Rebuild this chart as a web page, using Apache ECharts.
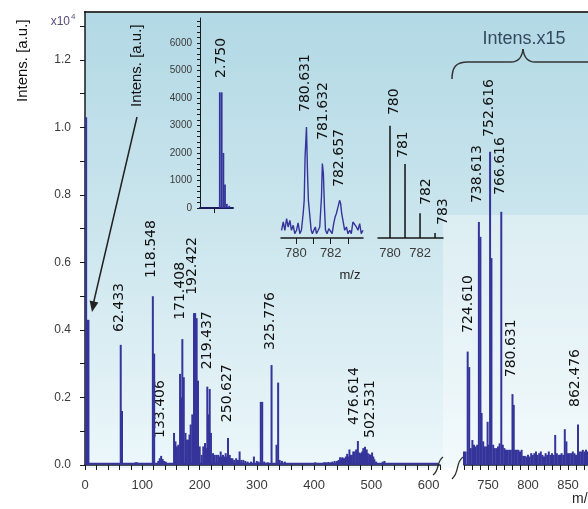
<!DOCTYPE html>
<html>
<head>
<meta charset="utf-8">
<script src="https://cdn.jsdelivr.net/npm/echarts@6/dist/echarts.min.js"></script>
<style>
html, body { margin: 0; padding: 0; background: #fff; }
#chart { width: 588px; height: 509px; }
</style>
</head>
<body>
<div id="chart"></div>
<script>
// spectrum, m/z 0-620 (intensity x10^4)
const mainMz = [2, 4, 6, 62.4, 64.6, 88, 91, 118.5, 120.8, 128, 130.5, 133, 135.5, 138, 141,
  155.5, 158, 160.5, 163, 166, 168, 170, 172.5, 175.5, 178, 180.5, 182.5, 184.6, 187.4, 190.4, 192.4,
  195, 197.4, 200.3, 203.8, 206.6, 209.6, 211.5, 213.6, 215.5, 217.8, 220, 223.6, 226.5, 229.5, 232.5,
  235, 237, 239, 241, 243.5, 245.7, 247.7, 249.7, 252.7, 255, 257.5, 260.5, 264, 267, 270, 273, 276.5,
  280, 284, 290, 295, 300, 303, 307, 309.5, 313, 319, 325.8, 334.5, 337.3, 340, 344, 349,
  402, 417.5, 421, 425, 429, 432, 436, 440, 443, 445.5, 447.5, 449.5, 451.5, 453, 455.5, 457.8, 460,
  461.8, 464, 466, 468.5, 470.5, 473.5, 476.6, 479.2, 482, 484, 486, 489, 492, 494, 496.7, 499, 501.4,
  503.5, 505.4, 508.4, 520, 523];
const mainInt = [1.03, 0.43, 0.43, 0.356, 0.16, 0.008, 0.008, 0.50, 0.33, 0.012, 0.02, 0.027, 0.018, 0.012, 0.01,
  0.095, 0.07, 0.055, 0.06, 0.27, 0.2, 0.373, 0.26, 0.095, 0.075, 0.075, 0.09, 0.12, 0.15, 0.45, 0.45,
  0.435, 0.25, 0.055, 0.03, 0.055, 0.065, 0.05, 0.232, 0.15, 0.225, 0.095, 0.035, 0.03, 0.03, 0.03,
  0.025, 0.04, 0.025, 0.03, 0.025, 0.035, 0.025, 0.08, 0.03, 0.02, 0.02, 0.015, 0.02, 0.015, 0.04, 0.015, 0.015,
  0.012, 0.01, 0.01, 0.025, 0.012, 0.01, 0.187, 0.187, 0.01, 0.008, 0.296, 0.06, 0.244, 0.015, 0.012, 0.01,
  0.008, 0.008, 0.008, 0.009, 0.008, 0.01, 0.012, 0.012, 0.015, 0.023, 0.02, 0.023, 0.02, 0.02, 0.025, 0.033, 0.025,
  0.046, 0.03, 0.03, 0.04, 0.04, 0.046, 0.071, 0.037, 0.035, 0.04, 0.05, 0.054, 0.046, 0.035, 0.032, 0.03, 0.037,
  0.025, 0.017, 0.01, 0.01, 0.012];
const noiseFloor = 0.004;
const floorSpan = [0, 617];

// spectrum, m/z 720-880, shown with intensity x15
const highMz = [720, 722, 724.6, 726.5, 728.5, 730.5, 732.5, 734.5, 736.5, 738.6, 740.5, 742, 744, 746, 748,
  749.5, 751, 752.6, 754.3, 756.5, 758.5, 760.5, 762.5, 764.5, 766.6, 768.5, 770.5, 772.5, 774.5, 776.5,
  778.5, 780.6, 782.2, 784, 786, 788, 790, 792, 794, 796, 798, 800, 802, 804, 806, 808, 810, 812, 814,
  816, 818, 820, 822, 824, 826, 828, 830, 832, 834, 836, 838, 840, 842, 844, 846, 848, 850, 852, 854,
  856, 858, 860, 862.5, 864.5, 866.5, 868.5, 870.5, 872.5, 874.5, 876.5, 878.5];
const highInt = [0.04, 0.04, 0.336, 0.29, 0.05, 0.074, 0.06, 0.055, 0.06, 0.72, 0.676, 0.154, 0.07, 0.055, 0.055,
  0.128, 0.06, 0.928, 0.613, 0.06, 0.05, 0.05, 0.055, 0.064, 0.75, 0.06, 0.05, 0.045, 0.045, 0.045,
  0.045, 0.21, 0.178, 0.045, 0.045, 0.045, 0.04, 0.045, 0.027, 0.027, 0.025, 0.03, 0.025, 0.035, 0.03, 0.035, 0.04, 0.03, 0.035,
  0.04, 0.03, 0.025, 0.035, 0.03, 0.04, 0.03, 0.035, 0.03, 0.089, 0.035, 0.03, 0.03, 0.035, 0.03, 0.106, 0.07, 0.035, 0.035, 0.035,
  0.04, 0.035, 0.03, 0.12, 0.04, 0.04, 0.045, 0.04, 0.045, 0.04, 0.04, 0.04];

// inset: low-mass peak
const lowMz = [2.6, 2.8, 2.98, 3.15, 3.35, 3.6];
const lowInt = [4200, 4200, 2000, 850, 150, 80];

// inset: measured isotope profile
const measMz = [779.18, 779.28, 779.37, 779.47, 779.56, 779.66, 779.75, 779.85, 779.94, 780.04, 780.13, 780.23,
  780.32, 780.42, 780.48, 780.53, 780.61, 780.67, 780.72, 780.80, 780.88, 780.95, 781.03, 781.12, 781.18,
  781.28, 781.37, 781.47, 781.52, 781.58, 781.64, 781.70, 781.79, 781.89, 781.98, 782.08, 782.17, 782.25,
  782.32, 782.42, 782.51, 782.57, 782.63, 782.70, 782.80, 782.90, 782.99, 783.09, 783.18, 783.27, 783.37,
  783.47, 783.56, 783.66, 783.75, 783.85];
const measInt = [0.056, 0.116, 0.056, 0.14, 0.08, 0.128, 0.056, 0.092, 0.031, 0.056, 0.109, 0.031,
  0.056, 0.176, 0.273, 0.587, 0.804, 0.466, 0.273, 0.273, 0.056, 0.031, 0.056, 0.08, 0.031,
  0.056, 0.08, 0.297, 0.539, 0.466, 0.225, 0.056, 0.031, 0.068, 0.056, 0.031, 0.104, 0.152,
  0.176, 0.225, 0.273, 0.249, 0.176, 0.128, 0.056, 0.08, 0.031, 0.056, 0.031, 0.116, 0.128,
  0.08, 0.056, 0.104, 0.031, 0.056];

// inset: calculated isotope pattern
const calcMz = [780, 781, 782, 783];
const calcInt = [100, 66, 22, 4.5];

// tick labels
const xLabelsLeft = [0, 100, 200, 300, 400, 500, 600];
const xLabelsRight = [750, 800, 850];
const yLabelsMain = [0, 0.2, 0.4, 0.6, 0.8, 1.0, 1.2];
const yLabelsLow = [0, 1000, 2000, 3000, 4000, 5000, 6000];
const isoLabels = [780, 782];

// peak annotations
const mainPeakText = ['62.433', '118.548', '133.406', '171.408', '192.422', '219.437', '250.627', '325.776', '476.614', '502.531'];
const highPeakText = ['724.610', '738.613', '752.616', '766.616', '780.631', '862.476'];
const lowPeakText = ['2.750'];
const measPeakText = ['780.631', '781.632', '782.657'];
const calcPeakText = ['780', '781', '782', '783'];

const blue = '#34349a';
const ink = '#1a1a1a';
const pairs = (xs, ys) => xs.map((x, i) => [x, ys[i]]);
const steps = (a, b, s) => { const r = []; for (let v = a; v <= b + 1e-9; v += s) r.push(+v.toFixed(4)); return r; };

const labelStyle = { color: '#3a3a3a', fontFamily: 'Liberation Sans', fontSize: 13 };

const chart = echarts.init(document.getElementById('chart'));

chart.setOption({
  animation: false,
  grid: [
    { left: 85, top: 12, width: 355, bottom: 44 },
    { left: 464, top: 12, right: 0, bottom: 44 },
    { left: 200, top: 18, width: 33, height: 190 },
    { left: 281, top: 100, width: 82, height: 138 },
    { left: 378, top: 100, width: 65, height: 138 }
  ],
  xAxis: [
    { gridIndex: 0, type: 'value', min: 0, max: 620, offset: 5, splitLine: { show: false },
      axisLine: { lineStyle: { color: ink, width: 1.5 } },
      axisTick: { customValues: steps(0, 620, 20), length: 5, lineStyle: { color: ink } },
      axisLabel: Object.assign({ customValues: xLabelsLeft, margin: 9 }, labelStyle) },
    { gridIndex: 1, type: 'value', min: 720, max: 875, offset: 5, splitLine: { show: false },
      axisLine: { lineStyle: { color: ink, width: 1.5 } },
      axisTick: { customValues: steps(720, 870, 10), length: 5, lineStyle: { color: ink } },
      axisLabel: Object.assign({ customValues: xLabelsRight, margin: 9 }, labelStyle) },
    { gridIndex: 2, type: 'value', min: 0.5, max: 4, splitLine: { show: false },
      axisLine: { lineStyle: { color: '#1c1c5c', width: 2 } },
      axisTick: { customValues: [2], length: 5, lineStyle: { color: ink } },
      axisLabel: { show: false } },
    { gridIndex: 3, type: 'value', min: 779.15, max: 783.85, splitLine: { show: false },
      axisLine: { lineStyle: { color: ink, width: 1.5 } },
      axisTick: { customValues: [780, 781, 782, 783], length: 6, lineStyle: { color: ink } },
      axisLabel: Object.assign({ customValues: isoLabels, margin: 9 }, labelStyle) },
    { gridIndex: 4, type: 'value', min: 779.2, max: 783.53, splitLine: { show: false },
      axisLine: { lineStyle: { color: ink, width: 1.5 } },
      axisTick: { show: false },
      axisLabel: Object.assign({ customValues: isoLabels, margin: 9 }, labelStyle) }
  ],
  yAxis: [
    { gridIndex: 0, type: 'value', min: 0, max: 1.342, splitLine: { show: false },
      axisLine: { show: true, lineStyle: { color: ink, width: 1.5 } },
      axisTick: { show: true, customValues: steps(0, 1.3, 0.1), length: 5, lineStyle: { color: ink } },
      axisLabel: Object.assign({ customValues: yLabelsMain, margin: 14, formatter: v => v.toFixed(1) }, labelStyle, { fontSize: 12 }) },
    { gridIndex: 1, type: 'value', min: 0, max: 1.342, show: false },
    { gridIndex: 2, type: 'value', min: 0, max: 6900, splitLine: { show: false },
      axisLine: { show: true, lineStyle: { color: ink, width: 1 } },
      axisTick: { show: true, customValues: steps(0, 6800, 200), length: 3, lineStyle: { color: ink } },
      axisLabel: Object.assign({ customValues: yLabelsLow, margin: 8, formatter: v => String(v) }, labelStyle, { fontSize: 10 }) },
    { gridIndex: 3, type: 'value', min: 0, max: 1, show: false },
    { gridIndex: 4, type: 'value', min: 0, max: 123, show: false }
  ],
  series: [
    { type: 'bar', xAxisIndex: 0, yAxisIndex: 0, barWidth: 2, itemStyle: { color: blue },
      data: pairs(mainMz, mainInt) },
    { type: 'line', xAxisIndex: 0, yAxisIndex: 0, symbol: 'none', lineStyle: { color: blue, width: 2 },
      data: floorSpan.map(m => [m, noiseFloor]) },
    { type: 'bar', xAxisIndex: 1, yAxisIndex: 1, barWidth: 2, itemStyle: { color: blue },
      data: pairs(highMz, highInt) },
    { type: 'bar', xAxisIndex: 2, yAxisIndex: 2, barWidth: 1.8, itemStyle: { color: blue },
      data: pairs(lowMz, lowInt) },
    { type: 'line', xAxisIndex: 3, yAxisIndex: 3, symbol: 'none', lineStyle: { color: blue, width: 1.4 },
      data: pairs(measMz, measInt) },
    { type: 'bar', xAxisIndex: 4, yAxisIndex: 4, barWidth: 1.5, itemStyle: { color: '#111' },
      data: pairs(calcMz, calcInt) }
  ]
});

// where each rotated peak label starts, in the data units of its panel
const tagAnchors = [
  [0, mainPeakText, [[60, 0.394], [115.3, 0.554], [131.9, 0.08], [166, 0.43], [187.8, 0.504],
    [214, 0.284], [248, 0.127], [323.1, 0.341], [469.9, 0.1185], [497.8, 0.08]]],
  [1, highPeakText, [[725, 0.391], [736.25, 0.776], [751.25, 0.972], [765, 0.8], [778.75, 0.26], [858.75, 0.172]]],
  [2, lowPeakText, [[2.73, 4721]]],
  [3, measPeakText, [[780.54, 0.913], [781.6, 0.71], [782.51, 0.37]]],
  [4, calcPeakText, [[780.27, 109.6], [780.9, 71.3], [782.43, 29.4], [783.53, 11.6]]]
];

const vText = (x, y, text, font, fill) => ({
  type: 'text', x: x, y: y, rotation: Math.PI / 2,
  style: { text: text, font: font, fill: fill || '#111', align: 'left', verticalAlign: 'middle' }
});

const tags = [];
tagAnchors.forEach(([g, texts, spots]) => {
  texts.forEach((t, i) => {
    const p = chart.convertToPixel({ gridIndex: g }, spots[i]);
    tags.push(vText(p[0], p[1], t, '14px "DejaVu Sans"'));
  });
});

const stroke = (w) => ({ stroke: '#333', lineWidth: w, fill: null });
const curve = (x1, y1, c1x, c1y, c2x, c2y, x2, y2, w) => ({
  type: 'bezierCurve', shape: { x1: x1, y1: y1, cpx1: c1x, cpy1: c1y, cpx2: c2x, cpy2: c2y, x2: x2, y2: y2 }, style: stroke(w)
});
const seg = (x1, y1, x2, y2, w) => ({ type: 'line', shape: { x1: x1, y1: y1, x2: x2, y2: y2 }, style: stroke(w) });

const decor = [
  { type: 'rect', z: -10, silent: true, shape: { x: 85, y: 12, width: 503, height: 456 },
    style: { fill: new echarts.graphic.LinearGradient(0, 0, 0, 1, [
      { offset: 0, color: '#b2d9e5' }, { offset: 0.5, color: '#cde6ee' }, { offset: 1, color: '#ecf7fa' }]) } },
  { type: 'rect', z: -9, silent: true, shape: { x: 443, y: 215, width: 145, height: 253 },
    style: { fill: 'rgba(255,255,255,0.35)' } },
  { type: 'line', shape: { x1: 84, y1: 12, x2: 588, y2: 12 }, style: { stroke: '#3a3a3a', lineWidth: 2 } },
  // axis break
  curve(433, 475, 440, 470, 436, 462, 443, 457, 1.3),
  curve(452, 479, 460, 472, 455, 463, 463, 457, 1.3),
  // brace over the scaled part
  curve(452, 79, 452, 67, 456, 62, 468, 62, 1.5),
  seg(468, 62, 511, 62, 1.5),
  curve(511, 62, 518, 62, 522, 58, 523, 49, 1.5),
  curve(523, 49, 524, 58, 528, 62, 535, 62, 1.5),
  seg(535, 62, 590, 62, 1.5),
  { type: 'text', x: 524, y: 39, style: { text: 'Intens.x15', font: '18px "Liberation Sans"', fill: '#34495e', align: 'center', verticalAlign: 'middle' } },
  // axis titles
  vText(23, 102, 'Intens. [a.u.]', '15px "Liberation Sans"', '#111'),
  vText(137, 107, 'Intens. [a.u.]', '15px "Liberation Sans"', '#111'),
  { type: 'text', x: 70, y: 22, style: { text: 'x10', font: '12px "Liberation Sans"', fill: '#5a4a7a', align: 'right', verticalAlign: 'middle' } },
  { type: 'text', x: 71, y: 17, style: { text: '4', font: '8px "Liberation Sans"', fill: '#5a4a7a', align: 'left', verticalAlign: 'middle' } },
  { type: 'text', x: 350, y: 275, style: { text: 'm/z', font: '13px "Liberation Sans"', fill: '#222', align: 'center', verticalAlign: 'middle' } },
  { type: 'text', x: 572, y: 499, style: { text: 'm/z', font: '14px "Liberation Sans"', fill: '#222', align: 'left', verticalAlign: 'middle' } },
  // arrow from the inset title to the low-mass peak
  { type: 'line', shape: { x1: 137, y1: 117, x2: 93, y2: 305 }, style: { stroke: '#222', lineWidth: 1.5 } },
  { type: 'polygon', shape: { points: [[92, 312], [89.6, 300.5], [98.4, 302.5]] }, style: { fill: '#222' } }
];

chart.setOption({ graphic: decor.concat(tags) });
</script>
</body>
</html>
